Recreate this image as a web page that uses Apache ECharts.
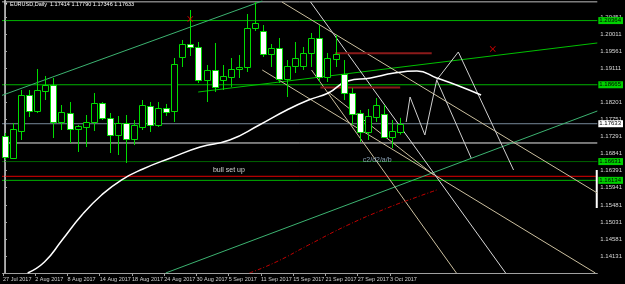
<!DOCTYPE html>
<html><head><meta charset="utf-8">
<script src="https://cdn.jsdelivr.net/npm/echarts@6/dist/echarts.min.js"></script>
<style>html,body{margin:0;padding:0;background:#000;}#c{width:625px;height:284px;}</style>
</head><body><div id="c"></div>
<script>
// ---- data (EURUSD, Daily) ----
const barIndex = [0,1,2,3,4,5,6,7,8,9,10,11,12,13,14,15,16,17,18,19,20,21,22,23,24,25,26,27,28,29,30,31,32,33,34,35,36,37,38,39,40,41,42,43,44,45,46,47,48,49];
const opens  = [1.17308,1.16726,1.17441,1.18394,1.17970,1.18500,1.18659,1.17679,1.17917,1.17494,1.17547,1.17679,1.18182,1.17785,1.17335,1.17652,1.17229,1.17547,1.18103,1.17600,1.18050,1.17970,1.19400,1.19744,1.19665,1.18791,1.19056,1.18791,1.18870,1.19082,1.19135,1.20168,1.20088,1.19479,1.19638,1.18817,1.19162,1.19162,1.19506,1.19903,1.18870,1.19347,1.18950,1.18447,1.17917,1.17414,1.17811,1.17891,1.17282,1.17414];
const closes = [1.16752,1.17494,1.18394,1.17970,1.18526,1.18659,1.17679,1.17944,1.17494,1.17573,1.17679,1.18182,1.17785,1.17335,1.17652,1.17229,1.17600,1.18129,1.17600,1.18050,1.17944,1.19215,1.19744,1.19665,1.18791,1.19056,1.18606,1.18897,1.19082,1.19135,1.20168,1.20300,1.19479,1.19638,1.18817,1.19162,1.19373,1.19506,1.19903,1.18870,1.19373,1.19479,1.18447,1.17891,1.17414,1.17838,1.18129,1.17282,1.17441,1.17633];
const lows   = [1.16673,1.16699,1.17202,1.17811,1.17917,1.18261,1.17255,1.17467,1.17123,1.16885,1.17017,1.17441,1.17732,1.16858,1.16805,1.16593,1.17070,1.17467,1.17414,1.17547,1.17838,1.17679,1.19135,1.19426,1.18711,1.18208,1.18473,1.18526,1.18606,1.18844,1.19003,1.20088,1.19400,1.19135,1.18711,1.18341,1.18976,1.19056,1.19135,1.18738,1.18738,1.19135,1.18261,1.17600,1.17149,1.17202,1.17679,1.17255,1.16990,1.17346];
const highs  = [1.17388,1.17652,1.18526,1.18526,1.19082,1.18897,1.18844,1.18129,1.18208,1.17600,1.17864,1.18447,1.18208,1.17917,1.17838,1.17864,1.17732,1.18261,1.18208,1.18208,1.18156,1.19373,1.19850,1.20644,1.19797,1.19188,1.19771,1.19188,1.19373,1.19453,1.20538,1.20856,1.20247,1.19744,1.19903,1.19320,1.19797,1.19665,1.20035,1.20247,1.19506,1.19982,1.19320,1.18579,1.17997,1.18023,1.18314,1.18129,1.17732,1.17790];

const dateTickIndex  = [0,4,8,12,16,20,24,28,32,36,40,44,48];
const dateTickLabels = ['27 Jul 2017','2 Aug 2017','8 Aug 2017','14 Aug 2017','18 Aug 2017','24 Aug 2017','30 Aug 2017','5 Sep 2017','11 Sep 2017','15 Sep 2017','21 Sep 2017','27 Sep 2017','3 Oct 2017'];
const priceTicks = [1.20451,1.20011,1.19561,1.19111,1.18201,1.17751,1.17291,1.16841,1.16391,1.15941,1.15481,1.15031,1.14581,1.14131];

// moving average curve [barIndex, price]
const maCurve = [[2.81,1.13681],[4.89,1.13972],[7.09,1.14555],[9.54,1.15217],[11.98,1.15746],[14.43,1.16143],[17.11,1.16435],[20.54,1.16726],[24.21,1.17017],[27.87,1.17202],[31.54,1.17600],[34.96,1.17997],[37.65,1.18262],[40.10,1.18447],[42.54,1.18765],[45.35,1.18844],[48.29,1.18976],[51.10,1.19029],[53.55,1.18844],[55.99,1.18659],[59.05,1.18394]];
// red dashed curve
const redCurve = [[30.32,1.13681],[33.62,1.13972],[37.65,1.14422],[42.54,1.14952],[47.43,1.15402],[51.10,1.15693],[53.55,1.15879]];
// zigzag projection
const zigzagA = [[49.76,1.17679],[50.24,1.18341],[52.08,1.17335],[53.55,1.18791],[56.23,1.19532],[63.08,1.16408]];
const zigzagB = [[53.55,1.18791],[57.82,1.16726]];

// trend lines [[i1,p1],[i2,p2]]
const seaGreenUpper = [[-0.49,1.18375],[31.91,1.20883]];
const seaGreenLower = [[19.93,1.13681],[73.47,1.17970]];
const greenRising   = [[23.96,1.18473],[73.47,1.19771]];
const tanLineA = [[31.91,1.19056],[73.23,1.13681]];
const tanLineB = [[34.35,1.20856],[73.47,1.15799]];
const tanLineC = [[37.90,1.20856],[62.10,1.13681]];
const tanLineD = [[38.02,1.19056],[55.99,1.13681]];
const tanLineE = [[40.10,1.18473],[53.18,1.16276]];
const redSegUpper = [[40.95,1.19498],[52.93,1.19498]];
const redSegLower = [[39.12,1.18592],[49.02,1.18592]];

// horizontal levels
const levelTop = 1.20860;
const levelGreenHigh = 1.20364;
const levelGreenMid = 1.18665;
const levelBid = 1.17633;
const levelWhite = 1.17123;
const levelDarkGreen = 1.16631;
const levelRed = 1.16241;
const levelGreenLow = 1.16134;

const crossMarks = [[22.98,1.20406],[60.50,1.19612]];
const notes = [{pos:[25.79,1.16408], text:'bull set up'},{pos:[44.38,1.16673], text:'c2/d2/a/b'}];

// ---- chart ----
const X_MIN = -0.30, X_MAX = 73.47, Y_MIN = 1.13681, Y_MAX = 1.20909;
const GREEN = '#00dd00';
const chart = echarts.init(document.getElementById('c'), null, {renderer:'canvas'});

const candleData = barIndex.map((i,k)=>[i, opens[k], closes[k], lows[k], highs[k]]);

function seg(data, color, extra){
  return Object.assign({type:'line', data, symbol:'none', silent:true, animation:false,
    lineStyle:{color, width:1}, z:3}, extra||{});
}
function hline(v, color, label, lblBg, lblColor, extra){
  const s = seg([[X_MIN-1,v],[X_MAX,v]], color, extra);
  if(label){
    s.endLabel = {show:true, formatter:()=>label, backgroundColor:lblBg, color:lblColor,
      fontSize:6, fontFamily:'Liberation Sans', padding:[1,2,0,1], distance:1, offset:[0,0]};
  }
  return s;
}

const series = [
  hline(levelTop,'#bdbdbd'),
  hline(levelGreenHigh,'#00b400','1.20364','#00d000','#000'),
  hline(levelGreenMid,'#00b400','1.18665','#00d000','#000'),
  hline(levelBid,'#778899','1.17633','#ffffff','#000'),
  hline(levelWhite,'#e8e8e8'),
  hline(levelDarkGreen,'#006400','1.16631','#00d000','#000'),
  hline(levelRed,'#e00000'),
  hline(levelGreenLow,'#00b400','1.16134','#00d000','#000'),
  seg([[-0.03,Y_MIN],[-0.03,Y_MAX]],'#d0d0d0'),
  seg([[73.4,1.16408],[73.4,1.15402]],'#ffffff',{lineStyle:{color:'#fff',width:2}}),
  seg(seaGreenUpper,'#3cb371'),
  seg(seaGreenLower,'#3cb371'),
  seg(greenRising,'#00c000'),
  seg(tanLineA,'#cbbf9f'),
  seg(tanLineB,'#cbbf9f'),
  seg(tanLineC,'#d8d8d8'),
  seg(tanLineD,'#cbbf9f'),
  seg(tanLineE,'#cbbf9f'),
  seg(redSegUpper,'#8b1a1a',{lineStyle:{color:'#8b1a1a',width:2}}),
  seg(redSegLower,'#8b1a1a',{lineStyle:{color:'#8b1a1a',width:2}}),
  seg(zigzagA,'#d0d0d0'),
  seg(zigzagB,'#d0d0d0'),
  seg(redCurve,'#c00000',{smooth:true, lineStyle:{color:'#c00000',width:1,type:[4,2,1,2]}}),
  seg(maCurve,'#ffffff',{smooth:true, lineStyle:{color:'#fff',width:1.5}, z:4}),
  {
    type:'custom', data:candleData, animation:false, silent:true, z:5, clip:false,
    encode:{x:0, y:[1,2,3,4]},
    renderItem(params, api){
      const i=api.value(0), o=api.value(1), c=api.value(2), l=api.value(3), h=api.value(4);
      const po=api.coord([i,o]), pc=api.coord([i,c]), pl=api.coord([i,l]), ph=api.coord([i,h]);
      const x=Math.round(po[0])+0.5;
      const top=Math.round(Math.min(po[1],pc[1]))+0.5, bot=Math.round(Math.max(po[1],pc[1]))+0.5;
      const bull=c>=o;
      return {type:'group', children:[
        {type:'line', shape:{x1:x,y1:ph[1],x2:x,y2:top}, style:{stroke:GREEN,lineWidth:1}},
        {type:'line', shape:{x1:x,y1:bot,x2:x,y2:pl[1]}, style:{stroke:GREEN,lineWidth:1}},
        {type:'rect', shape:{x:x-3,y:top,width:6,height:Math.max(bot-top,1)}, style:{fill:bull?'#000':'#fff', stroke:GREEN, lineWidth:1}}
      ]};
    }
  },
  {
    type:'scatter', data:crossMarks, animation:false, silent:true, z:6,
    symbol:'path://M0,1L1,0L5,4L9,0L10,1L6,5L10,9L9,10L5,6L1,10L0,9L4,5Z', symbolSize:6,
    itemStyle:{color:'#ff0000'}
  },
  {
    type:'scatter', animation:false, silent:true, z:6, symbolSize:0,
    data:notes.map(n=>({value:n.pos, label:{formatter:n.text}})),
    label:{show:true, position:'right', distance:0, fontSize:7, fontFamily:'Liberation Sans', color:'#ffffff'}
  }
];
series[series.length-1].data[1].label.color = '#a9c4dc';

chart.setOption({
  backgroundColor:'#000',
  animation:false,
  grid:{left:0, top:0, width:603, height:273},
  xAxis:{type:'value', min:X_MIN, max:X_MAX, splitLine:{show:false},
    axisLine:{show:true, onZero:false, lineStyle:{color:'#a0a0a0'}},
    axisTick:{show:true, customValues:dateTickIndex.map(v=>v-0.25), length:3, lineStyle:{color:'#a0a0a0'}},
    axisLabel:{customValues:dateTickIndex.map(v=>v-0.25), hideOverlap:false, showMinLabel:true, showMaxLabel:true,
      fontSize:5.5, fontFamily:'Liberation Sans', color:'#d0d0d0', align:'left', margin:3,
      formatter:(v)=>{let best=0,bd=1e9;dateTickIndex.forEach((d,k)=>{const dd=Math.abs(d-0.25-v);if(dd<bd){bd=dd;best=k;}});return dateTickLabels[best];}}
  },
  yAxis:{type:'value', position:'right', min:Y_MIN, max:Y_MAX, splitLine:{show:false}, scale:true,
    axisLine:{show:true, lineStyle:{color:'#a0a0a0'}},
    axisTick:{show:true, customValues:priceTicks, length:2, lineStyle:{color:'#a0a0a0'}},
    axisLabel:{customValues:priceTicks, hideOverlap:false, fontSize:6, fontFamily:'Liberation Sans', color:'#d8d8d8', margin:3, formatter:(v)=>Number(v).toFixed(5)}
  },
  graphic:[{type:'text', left:3, top:1, style:{text:'\u25BC EURUSD,Daily  1.17414 1.17790 1.17346 1.17633', fill:'#ffffff', fontSize:5.5, fontFamily:'Liberation Sans'}}],
  series
});
</script></body></html>
